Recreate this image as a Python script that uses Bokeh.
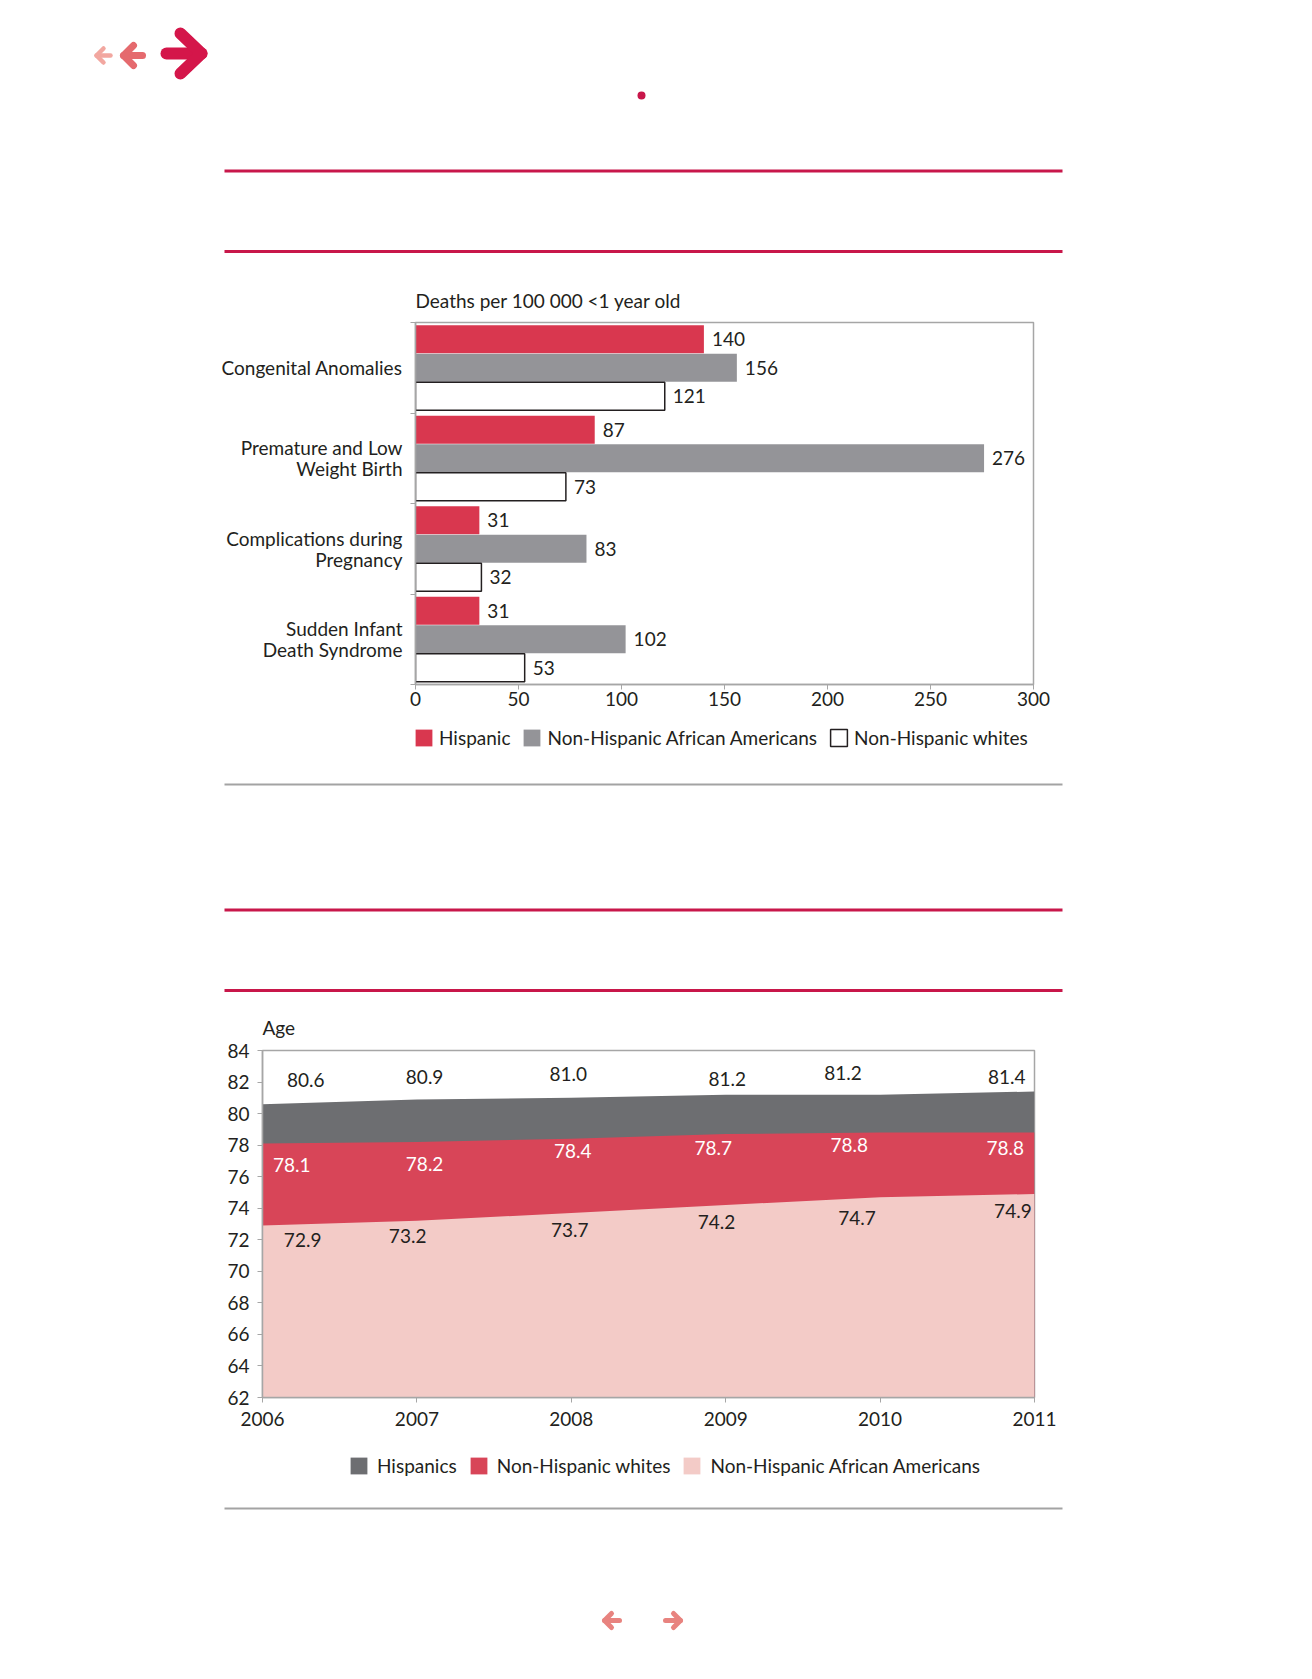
from bokeh.plotting import figure
from bokeh.models import Range1d, FixedTicker, Legend, LegendItem
from bokeh.core.properties import value
from bokeh.embed import file_html
from bokeh.resources import INLINE

# ---------------- data ----------------
causes = ["Congenital Anomalies", "Premature and Low\nWeight Birth",
          "Complications during\nPregnancy", "Sudden Infant\nDeath Syndrome"]
hispanic = [140, 87, 31, 31]
african_american = [156, 276, 83, 102]
whites = [121, 73, 32, 53]
bar_ticks = [0, 50, 100, 150, 200, 250, 300]
bar_series = ["Hispanic", "Non-Hispanic African Americans", "Non-Hispanic whites"]

years = [2006, 2007, 2008, 2009, 2010, 2011]
le_hispanics = [80.6, 80.9, 81.0, 81.2, 81.2, 81.4]
le_whites = [78.1, 78.2, 78.4, 78.7, 78.8, 78.8]
le_african_american = [72.9, 73.2, 73.7, 74.2, 74.7, 74.9]
age_ticks = [62, 64, 66, 68, 70, 72, 74, 76, 78, 80, 82, 84]
area_series = ["Hispanics", "Non-Hispanic whites", "Non-Hispanic African Americans"]

# ---------------- styles ----------------
FONT = "Lato"
FS = "19px"
TXT = "#231f20"
RULE_RED = "#c8174a"
RULE_GRAY = "#a3a3a3"
AXIS_GRAY = "#a6a6a6"
C_HISP = "#d9374f"
C_AA = "#949498"
A_HISP = "#6d6e71"
A_WHITE = "#d84558"
A_AA = "#f3cbc7"

# label nudges (years, age units) for the area-chart annotations
hisp_dx = [0.28, 0.05, -0.02, 0.01, -0.24, -0.18]
hisp_dy = [1.5, 1.4, 1.5, 1.0, 1.4, 0.9]
white_dx = [0.19, 0.05, 0.01, -0.08, -0.20, -0.19]
white_dy = [-1.34, -1.37, -0.75, -0.85, -0.81, -0.95]
aa_dx = [0.26, -0.06, -0.01, -0.06, -0.15, -0.14]
aa_dy = [-0.92, -0.95, -1.10, -1.06, -1.35, -1.08]

PAGE_W = 1296
# vertical bands of the page (screen px)
D1_TOP, P1_TOP, D2_TOP, P2_TOP, D3_TOP, PAGE_END = 0, 269, 724, 1002, 1437, 1671


def deco(top, bottom):
    f = figure(width=PAGE_W, height=bottom - top, x_range=Range1d(0, PAGE_W),
               y_range=Range1d(bottom, top), min_border=0, x_axis_location=None,
               y_axis_location=None, output_backend="svg", toolbar_location=None)
    f.outline_line_color = None
    f.grid.grid_line_color = None
    f.background_fill_color = "white"
    f.border_fill_color = "white"
    return f


def rule(f, y, color, w):
    f.segment(x0=224, y0=y, x1=1062, y1=y, line_color=color, line_width=w)


def arrow(f, tip, tail, arm1, arm2, color, w):
    f.multi_line(xs=[[tip[0], tail[0]], [arm1[0], tip[0], arm2[0]]],
                 ys=[[tip[1], tail[1]], [arm1[1], tip[1], arm2[1]]],
                 line_color=color, line_width=w, line_cap="round", line_join="round")


def legend(items, loc, standoff):
    return Legend(items=items, orientation="horizontal", location=loc, padding=0,
                  margin=0, spacing=11, label_standoff=standoff, glyph_width=21,
                  glyph_height=21, label_height=20, label_text_font=FONT,
                  label_text_font_size=FS, label_text_color=TXT,
                  label_text_baseline="middle", border_line_color=None,
                  background_fill_alpha=0)


# ---------------- top decoration ----------------
d1 = deco(D1_TOP, P1_TOP)
arrow(d1, (96, 55), (110, 55), (103, 48), (103, 62), "#f2a7a0", 4.5)
arrow(d1, (123, 55), (142, 55), (133, 45), (133, 65), "#e56a6e", 7)
arrow(d1, (201, 53), (166, 53), (180, 33), (180, 73), "#d4164a", 12)
d1.scatter(x=[641], y=[95], size=8, fill_color="#c8174a", line_color=None)
rule(d1, 170.5, RULE_RED, 3)
rule(d1, 251, RULE_RED, 3)

# ---------------- bar chart ----------------
p1 = figure(frame_width=618, frame_height=362, min_border_left=415, min_border_right=263,
            min_border_top=53, min_border_bottom=D2_TOP - P1_TOP - 53 - 362,
            x_range=Range1d(0, 300), y_range=Range1d(0, 4), output_backend="svg",
            toolbar_location=None, title="Deaths per 100 000 <1 year old")
n = len(causes)
centers = [n - i - 0.5 for i in range(n)]
off = 0.314
bh = 0.31
bar_styles = [dict(fill_color=C_HISP, line_color=None),
              dict(fill_color=C_AA, line_color=None),
              dict(fill_color="white", line_color=TXT, line_width=1.5)]
for vals, dy, st in ((hispanic, off, bar_styles[0]), (african_american, 0, bar_styles[1]),
                     (whites, -off, bar_styles[2])):
    ys = [c + dy for c in centers]
    p1.hbar(y=ys, left=0, right=vals, height=bh, **st)
    p1.text(x=vals, y=ys, text=[str(v) for v in vals],
            x_offset=8, text_align="left", text_baseline="middle",
            text_font=value(FONT), text_font_size=FS, text_color=TXT)

p1.grid.grid_line_color = None
p1.outline_line_color = AXIS_GRAY
p1.outline_line_width = 1.5
p1.xaxis.ticker = FixedTicker(ticks=bar_ticks)
p1.yaxis.ticker = FixedTicker(ticks=centers, minor_ticks=list(range(n + 1)))
p1.yaxis.major_label_overrides = {c: lab for c, lab in zip(centers, causes)}
p1.yaxis.minor_tick_line_color = AXIS_GRAY
p1.yaxis.minor_tick_out = 5
p1.yaxis.minor_tick_in = 0
p1.yaxis.major_label_standoff = 7
p1.yaxis.major_label_text_line_height = 0.92
p1.xaxis.minor_tick_line_color = None
p1.xaxis.major_tick_out = 5
p1.xaxis.major_tick_in = 0
p1.xaxis.major_label_standoff = 2
for ax in (p1.xaxis, p1.yaxis):
    ax.axis_line_color = AXIS_GRAY
    ax.axis_line_width = 1.5
    ax.major_label_text_font = FONT
    ax.major_label_text_font_size = FS
    ax.major_label_text_color = TXT
p1.xaxis.major_tick_line_color = AXIS_GRAY
p1.yaxis.major_tick_line_color = None
p1.title.text_font = FONT
p1.title.text_font_size = FS
p1.title.text_font_style = "normal"
p1.title.text_color = TXT
p1.title.align = "left"
p1.title.standoff = 22

# ---------------- bar legend + middle decoration ----------------
d2 = deco(D2_TOP, P2_TOP)
lg1_items = []
for name, st in zip(bar_series, bar_styles):
    # zero-size sample renderer (hidden under the rule drawn afterwards);
    # only its style is used, by the legend
    r = d2.hbar(y=[909.5], left=[600], right=[600], height=0, **st)
    lg1_items.append(LegendItem(label=name, renderers=[r]))
d2.add_layout(legend(lg1_items, (413, P2_TOP - 748.5), 5))
rule(d2, 784, RULE_GRAY, 2)
rule(d2, 909.5, RULE_RED, 3)
rule(d2, 990, RULE_RED, 3)

# ---------------- area chart ----------------
p2 = figure(frame_width=772, frame_height=347, min_border_left=262, min_border_right=262,
            min_border_top=48, min_border_bottom=D3_TOP - P2_TOP - 48 - 347,
            x_range=Range1d(2006, 2011), y_range=Range1d(62, 84), output_backend="svg",
            toolbar_location=None, title="Age")
area_colors = [A_HISP, A_WHITE, A_AA]
for vals, col in zip((le_hispanics, le_whites, le_african_american), area_colors):
    p2.varea(x=years, y1=62, y2=vals, fill_color=col)
for vals, dx, dy, col in ((le_hispanics, hisp_dx, hisp_dy, TXT),
                          (le_whites, white_dx, white_dy, "white"),
                          (le_african_american, aa_dx, aa_dy, TXT)):
    p2.text(x=[y + d for y, d in zip(years, dx)], y=[v + d for v, d in zip(vals, dy)],
            text=[f"{v:.1f}" for v in vals], text_align="center", text_baseline="middle",
            text_font=value(FONT), text_font_size=FS, text_color=col)

p2.grid.grid_line_color = None
p2.outline_line_color = AXIS_GRAY
p2.outline_line_width = 1.5
p2.xaxis.ticker = FixedTicker(ticks=years)
p2.yaxis.ticker = FixedTicker(ticks=age_ticks)
for ax in (p2.xaxis, p2.yaxis):
    ax.axis_line_color = AXIS_GRAY
    ax.axis_line_width = 1.5
    ax.major_tick_line_color = AXIS_GRAY
    ax.major_tick_out = 5
    ax.major_tick_in = 0
    ax.minor_tick_line_color = None
    ax.major_label_text_font = FONT
    ax.major_label_text_font_size = FS
    ax.major_label_text_color = TXT
p2.xaxis.major_label_standoff = 9
p2.yaxis.major_label_standoff = 8
p2.title.text_font = FONT
p2.title.text_font_size = FS
p2.title.text_font_style = "normal"
p2.title.text_color = TXT
p2.title.align = "left"
p2.title.standoff = 23

# ---------------- area legend + bottom decoration ----------------
d3 = deco(D3_TOP, PAGE_END)
lg2_items = []
for name, col in zip(area_series, area_colors):
    # zero-area sample renderer (under the rule); only its style is used, by the legend
    r = d3.varea(x=[600, 600], y1=[1508, 1508], y2=[1508, 1508], fill_color=col)
    lg2_items.append(LegendItem(label=name, renderers=[r]))
d3.add_layout(legend(lg2_items, (348, PAGE_END - 1476.5), 8))
rule(d3, 1508, RULE_GRAY, 2)
arrow(d3, (604, 1620), (619, 1620), (611, 1613), (611, 1627), "#e8837f", 5)
arrow(d3, (680, 1620), (665, 1620), (673, 1613), (673, 1627), "#e8837f", 5)

# each piece is its own root so Bokeh does not align their frames
open("out.html", "w").write(file_html([d1, p1, d2, p2, d3], INLINE))
